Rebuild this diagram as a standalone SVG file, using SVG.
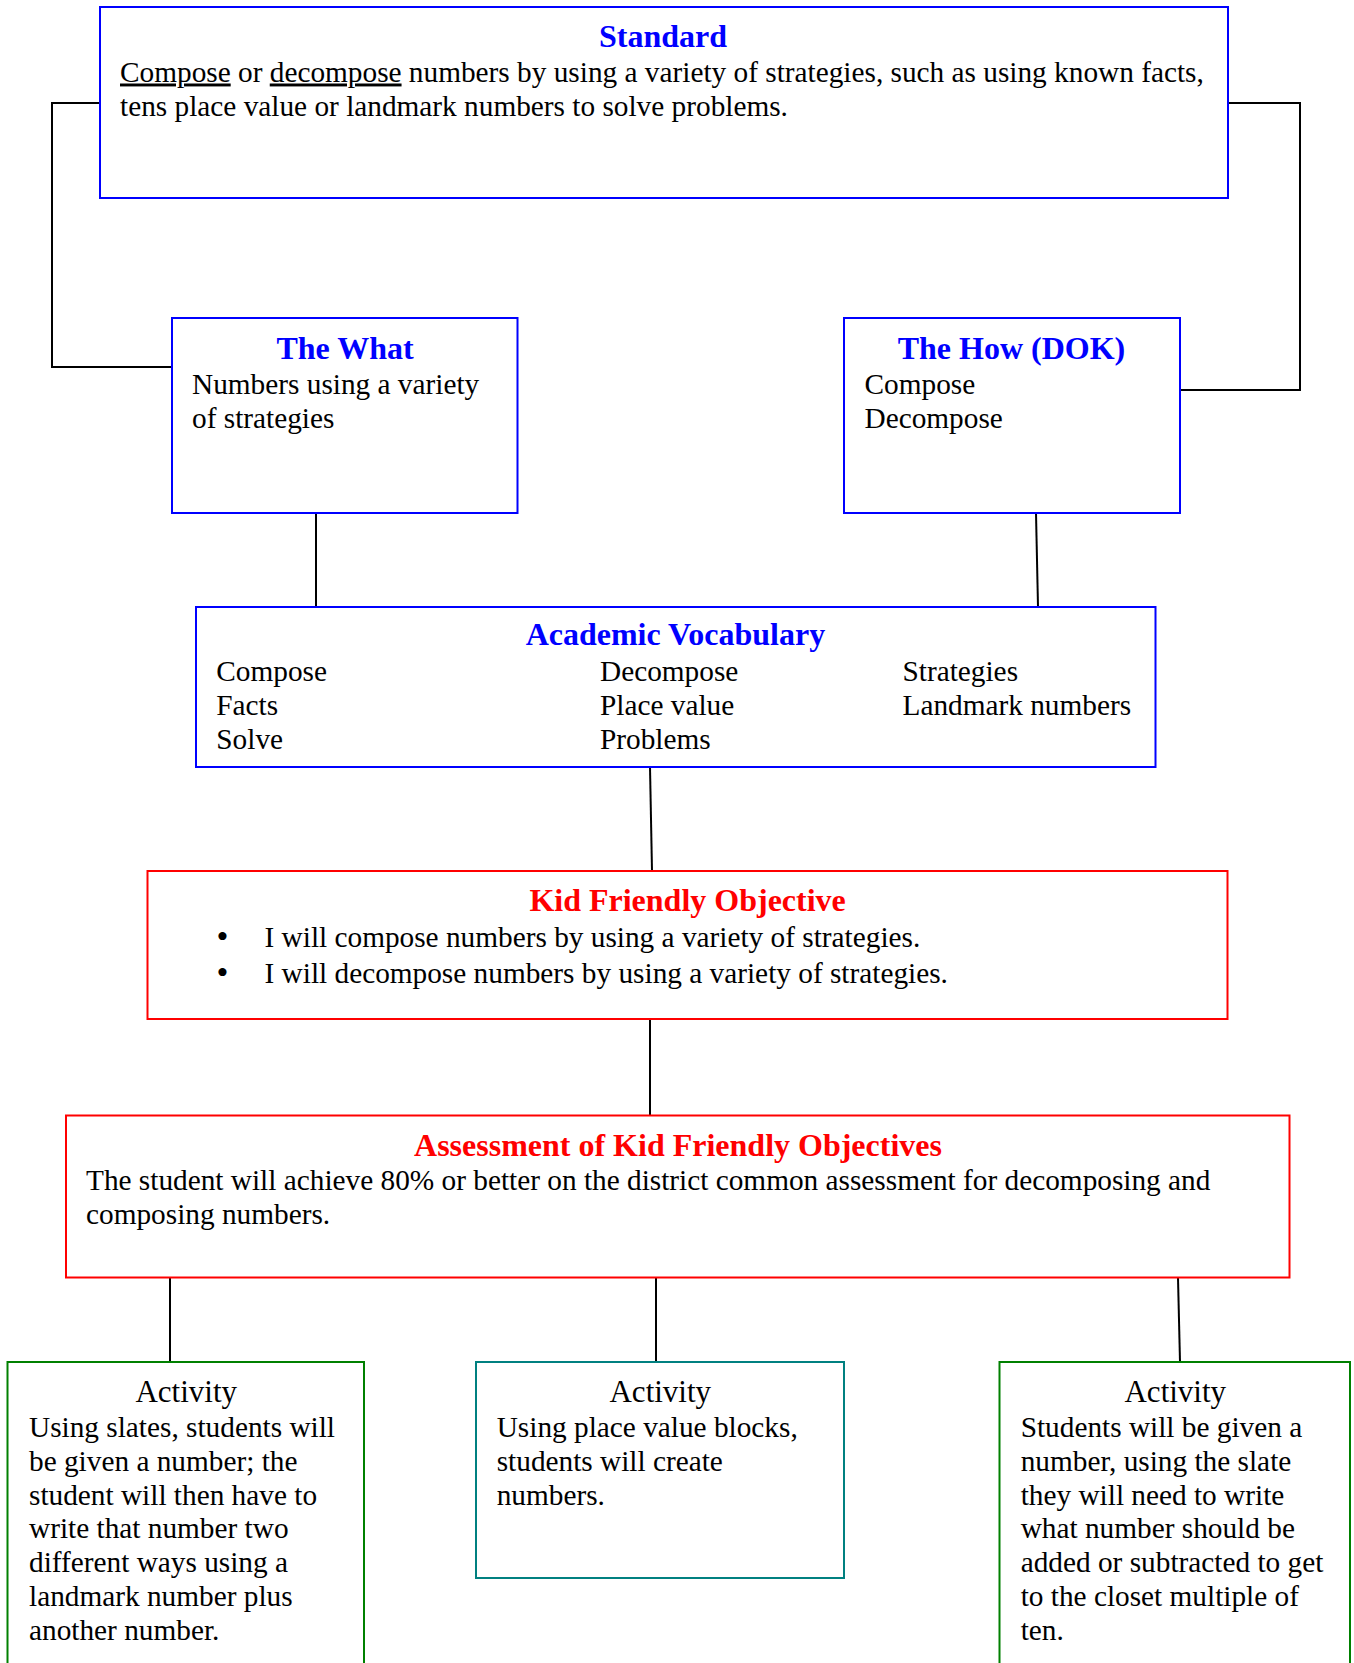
<svg xmlns="http://www.w3.org/2000/svg" width="1354" height="1663" viewBox="0 0 1354 1663">
<style>
text{font-family:"Liberation Serif","Times New Roman",serif;fill:#000}
.b{font-size:29.3px}
.bul{font-size:34px}
.t{font-size:32px;font-weight:bold;text-anchor:middle}
.blue{fill:#0000FF}
.red{fill:#FF0000}
.act{font-size:31px;text-anchor:middle}
.box{fill:#fff;stroke-width:2}
.bb{stroke:#0000FF}
.rb{stroke:#FF0000}
.gb{stroke:#008000}
.tb{stroke:#008080}
.c{fill:none;stroke:#000;stroke-width:2}
</style>
<rect width="1354" height="1663" fill="#fff"/>
<g id="connectors">
<path class="c" d="M100 103 H52 V367 H172"/>
<path class="c" d="M1228 103 H1300 V390 H1180"/>
<path class="c" d="M316 513 V607"/>
<path class="c" d="M1036 513 L1038 607"/>
<path class="c" d="M650 767 L652 871"/>
<path class="c" d="M650 1019 V1115"/>
<path class="c" d="M170 1278 V1362"/>
<path class="c" d="M656 1278 V1362"/>
<path class="c" d="M1178 1278 L1180 1362"/>
</g>
<g id="standard">
<rect class="box bb" x="100" y="7" width="1128" height="191"/>
<text class="t blue" x="663" y="46.5">Standard</text>
<text class="b" x="120" y="81.5"><tspan text-decoration="underline">Compose</tspan> or <tspan text-decoration="underline">decompose</tspan> numbers by using a variety of strategies, such as using known facts,</text>
<text class="b" x="120" y="115.5">tens place value or landmark numbers to solve problems.</text>
</g>
<g id="the-what">
<rect class="box bb" x="172" y="318" width="345.5" height="195"/>
<text class="t blue" x="345" y="359">The What</text>
<text class="b" x="192" y="394">Numbers using a variety</text>
<text class="b" x="192" y="428">of strategies</text>
</g>
<g id="the-how">
<rect class="box bb" x="844" y="318" width="336" height="195"/>
<text class="t blue" x="1011.5" y="359">The How (DOK)</text>
<text class="b" x="864.5" y="394">Compose</text>
<text class="b" x="864.5" y="428">Decompose</text>
</g>
<g id="academic-vocabulary">
<rect class="box bb" x="196" y="607" width="959.5" height="160"/>
<text class="t blue" x="675.4" y="645">Academic Vocabulary</text>
<text class="b" x="216.3" y="680.5">Compose</text>
<text class="b" x="216.3" y="714.5">Facts</text>
<text class="b" x="216.3" y="748.5">Solve</text>
<text class="b" x="600" y="680.5">Decompose</text>
<text class="b" x="600" y="714.5">Place value</text>
<text class="b" x="600" y="748.5">Problems</text>
<text class="b" x="902.5" y="680.5">Strategies</text>
<text class="b" x="902.5" y="714.5">Landmark numbers</text>
</g>
<g id="kid-friendly-objective">
<rect class="box rb" x="147.5" y="871" width="1080" height="148"/>
<text class="t red" x="687.6" y="910.5">Kid Friendly Objective</text>
<text class="bul" x="216.5" y="947.5">•</text>
<text class="b" x="264.5" y="946.5">I will compose numbers by using a variety of strategies.</text>
<text class="bul" x="216.5" y="984">•</text>
<text class="b" x="264.5" y="982.5">I will decompose numbers by using a variety of strategies.</text>
</g>
<g id="assessment">
<rect class="box rb" x="66" y="1115.5" width="1223.5" height="162"/>
<text class="t red" x="678" y="1155.5">Assessment of Kid Friendly Objectives</text>
<text class="b" x="86" y="1190">The student will achieve 80% or better on the district common assessment for decomposing and</text>
<text class="b" x="86" y="1224">composing numbers.</text>
</g>
<g id="activity-1">
<rect class="box gb" x="7.5" y="1362" width="356.5" height="320"/>
<text class="act" x="186.2" y="1401.5">Activity</text>
<text class="b" x="29" y="1437">Using slates, students will</text>
<text class="b" x="29" y="1470.8">be given a number; the</text>
<text class="b" x="29" y="1504.6">student will then have to</text>
<text class="b" x="29" y="1538.4">write that number two</text>
<text class="b" x="29" y="1572.2">different ways using a</text>
<text class="b" x="29" y="1606">landmark number plus</text>
<text class="b" x="29" y="1639.8">another number.</text>
</g>
<g id="activity-2">
<rect class="box tb" x="476" y="1362" width="368" height="216"/>
<text class="act" x="660.3" y="1401.5">Activity</text>
<text class="b" x="496.7" y="1437">Using place value blocks,</text>
<text class="b" x="496.7" y="1470.8">students will create</text>
<text class="b" x="496.7" y="1504.6">numbers.</text>
</g>
<g id="activity-3">
<rect class="box gb" x="999.5" y="1362" width="350.5" height="320"/>
<text class="act" x="1175.3" y="1401.5">Activity</text>
<text class="b" x="1020.7" y="1437">Students will be given a</text>
<text class="b" x="1020.7" y="1470.8">number, using the slate</text>
<text class="b" x="1020.7" y="1504.6">they will need to write</text>
<text class="b" x="1020.7" y="1538.4">what number should be</text>
<text class="b" x="1020.7" y="1572.2">added or subtracted to get</text>
<text class="b" x="1020.7" y="1606">to the closet multiple of</text>
<text class="b" x="1020.7" y="1639.8">ten.</text>
</g>
</svg>
